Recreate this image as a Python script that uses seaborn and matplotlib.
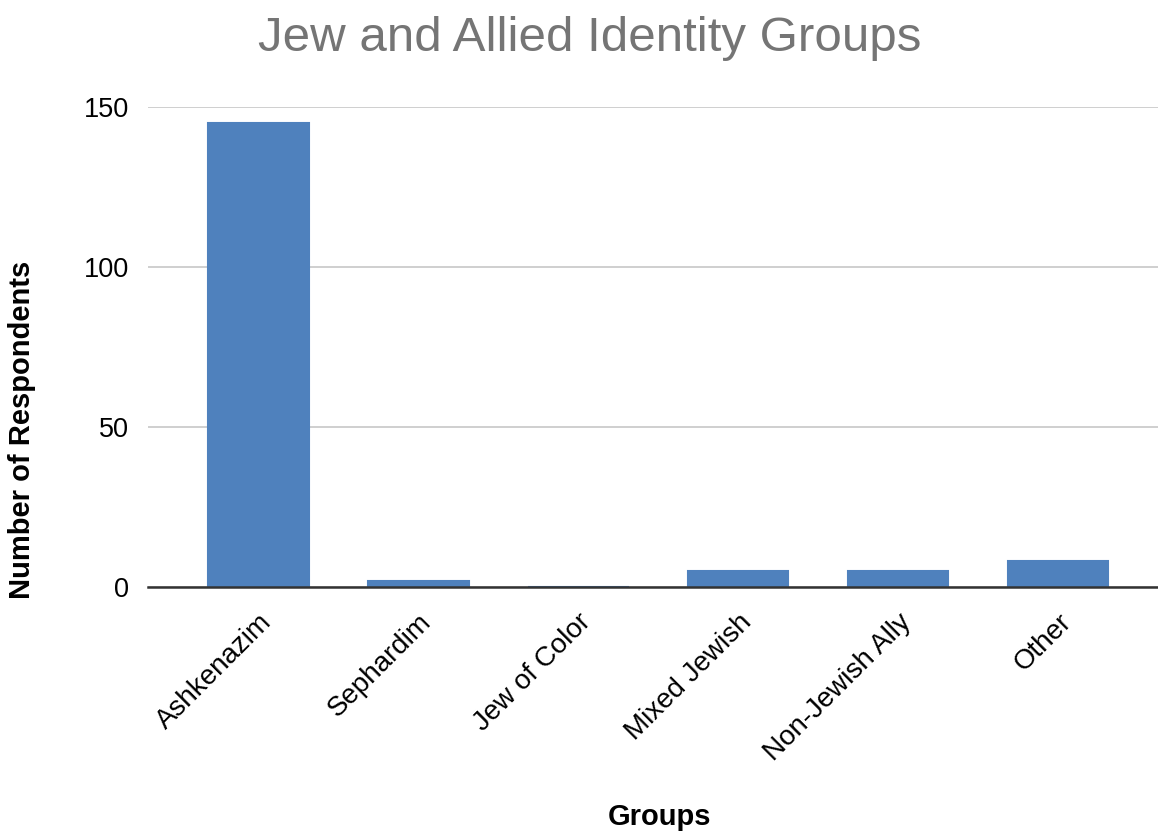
import matplotlib
matplotlib.use("Agg")
import matplotlib.pyplot as plt
import seaborn as sns
import pandas as pd

categories = ["Ashkenazim", "Sephardim", "Jew of Color", "Mixed Jewish", "Non-Jewish Ally", "Other"]
respondents = [145, 2, 0, 5, 5, 8]
y_ticks = [0, 50, 100, 150]

df = pd.DataFrame({"Groups": categories, "Number of Respondents": respondents})

sns.set_theme(style="white")
plt.rcParams['font.family'] = ['Liberation Sans', 'DejaVu Sans']

fig = plt.figure(figsize=(11.58, 8.33), dpi=100)
ax = fig.add_axes([0.128, 0.2953, 0.872, 0.5762])

bar_color = "#4f81bd"
sns.barplot(data=df, x="Groups", y="Number of Respondents", color=bar_color,
            width=0.63, saturation=1, ax=ax, edgecolor=bar_color, linewidth=1.5, zorder=3)

ax.set_ylim(0, 150)
ax.set_xlim(-0.6875, 5.625)
ax.set_yticks(y_ticks)
ax.set_yticklabels([str(t) for t in y_ticks], fontsize=19.5, color="black")
ax.yaxis.grid(True, color="#cccccc", linewidth=1.3, zorder=0)
ax.set_axisbelow(True)
for s in ["top", "right", "left"]:
    ax.spines[s].set_visible(False)
ax.spines["bottom"].set_color("#333333")
ax.spines["bottom"].set_linewidth(1.8)
ax.spines["bottom"].set_zorder(4)
ax.tick_params(axis="y", length=0, pad=14)
ax.tick_params(axis="x", length=0, pad=16)
ax.set_xticks(range(len(categories)))
ax.set_xticklabels(categories, rotation=45, ha="right", rotation_mode="anchor",
                   fontsize=20, color="black")

ax.set_ylabel("Number of Respondents", fontsize=21, fontweight="bold", color="black")
ax.set_xlabel("Groups", fontsize=21, fontweight="bold", color="black")
ax.xaxis.set_label_coords(0.506, -0.479)
ax.xaxis.label.set_va("center")
ax.yaxis.set_label_coords(-0.125, 0.328)
ax.yaxis.label.set_va("center")

fig.text(0.509, 0.954, "Jew and Allied Identity Groups", fontsize=35.5, color="#757575",
         ha="center", va="center")

fig.savefig("out.png", dpi=100)
